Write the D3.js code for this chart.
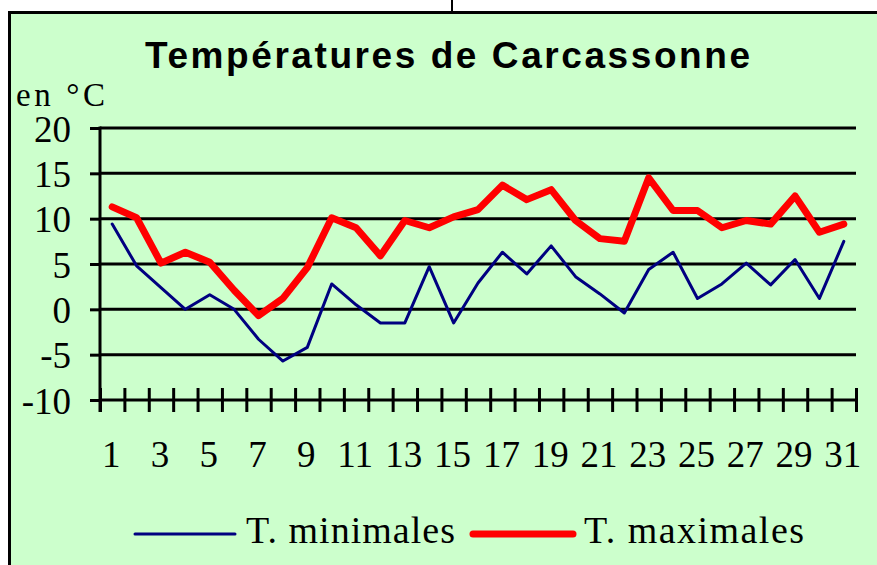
<!DOCTYPE html>
<html>
<head>
<meta charset="utf-8">
<script src="https://cdn.jsdelivr.net/npm/d3@7"></script>
<style>
  body { margin: 0; background: #fff; }
  svg { display: block; }
</style>
</head>
<body>
<svg id="chart" width="877" height="565"></svg>
<script>
// jours du mois
var days = d3.range(1, 32);
// T. minimales (°C)
var tMin = [9.4, 4.8, 2.4, 0.0, 1.6, 0.0, -3.3, -5.7, -4.2, 2.8,
            0.5, -1.5, -1.5, 4.7, -1.5, 2.9, 6.3, 3.9, 7.0, 3.6,
            1.7, -0.4, 4.4, 6.3, 1.2, 2.8, 5.1, 2.7, 5.5, 1.2, 7.5];
// T. maximales (°C)
var tMax = [11.3, 10.1, 5.1, 6.3, 5.2, 2.1, -0.7, 1.2, 4.6, 10.1,
            9.0, 5.9, 9.8, 9.0, 10.2, 11.0, 13.7, 12.1, 13.2, 9.8,
            7.8, 7.5, 14.5, 10.9, 10.9, 9.0, 9.8, 9.4, 12.5, 8.5, 9.4];
var yTicks = [-10, -5, 0, 5, 10, 15, 20];
var xLabels = days.filter(function (d) { return d % 2 === 1; });

var svg = d3.select("#chart");
var serif = "'Liberation Serif', 'Times New Roman', serif";

// petit trait au dessus du cadre
svg.append("line")
  .attr("x1", 452).attr("x2", 452).attr("y1", 0).attr("y2", 12)
  .attr("stroke", "#000").attr("stroke-width", 2);

// cadre du graphique
svg.append("rect")
  .attr("x", 9.5).attr("y", 12.5).attr("width", 900).attr("height", 600)
  .attr("fill", "#CCFFCC").attr("stroke", "#000").attr("stroke-width", 3);

// titre
svg.append("text")
  .attr("x", 145).attr("y", 68)
  .attr("textLength", 605).attr("lengthAdjust", "spacing")
  .style("font-family", "'Liberation Sans', Arial, sans-serif")
  .style("font-weight", "bold").style("font-size", "37px")
  .text("Températures de Carcassonne");

svg.append("text")
  .attr("x", 16).attr("y", 106)
  .attr("textLength", 89).attr("lengthAdjust", "spacing")
  .style("font-family", serif).style("font-size", "33px")
  .text("en °C");

var x = d3.scaleBand().domain(days).range([100, 856]);
var xEdge = d3.scaleLinear().domain([0, 31]).range([100, 856]);
var y = d3.scaleLinear().domain([-10, 20]).range([400, 128]);

// lignes horizontales
svg.append("g").selectAll("line")
  .data(yTicks.filter(function (d) { return d !== -10; }))
  .enter().append("line")
  .attr("x1", 100).attr("x2", 856)
  .attr("y1", function (d) { return y(d); })
  .attr("y2", function (d) { return y(d); })
  .attr("stroke", "#000").attr("stroke-width", 3);

// axe vertical
var yAxis = svg.append("g")
  .attr("transform", "translate(100,0)")
  .call(d3.axisLeft(y).tickValues(yTicks).tickSize(10).tickPadding(19)
    .tickFormat(function (d) { return String(d); }));
yAxis.select(".domain").remove();
yAxis.selectAll("line").attr("stroke-width", 3);
yAxis.append("line")
  .attr("x1", 0).attr("x2", 0).attr("y1", y(20) - 1.5).attr("y2", y(-10) + 12)
  .attr("stroke", "#000").attr("stroke-width", 3);
yAxis.selectAll("text")
  .attr("fill", "#000").attr("dy", "0.36em")
  .style("font-family", serif).style("font-size", "37px");

// axe horizontal avec graduations croisées
var xAxis = svg.append("g")
  .attr("transform", "translate(0," + y(-10) + ")")
  .call(d3.axisBottom(xEdge).ticks(31).tickSize(12).tickFormat(""));
xAxis.select(".domain").remove();
xAxis.selectAll(".tick line").attr("y1", -12).attr("stroke-width", 3);
xAxis.append("line")
  .attr("x1", 100).attr("x2", 856)
  .attr("stroke", "#000").attr("stroke-width", 3);

var xLab = svg.append("g")
  .attr("transform", "translate(0," + y(-10) + ")")
  .call(d3.axisBottom(x).tickValues(xLabels).tickSize(0).tickPadding(0));
xLab.select(".domain").remove();
xLab.selectAll("text")
  .attr("x", -1).attr("y", 67).attr("dy", null)
  .attr("fill", "#000")
  .style("font-family", serif).style("font-size", "37px");

// courbes
function draw(values, color, width) {
  var line = d3.line()
    .x(function (d, i) { return x(days[i]) + x.bandwidth() / 2; })
    .y(function (d) { return y(d); });
  svg.append("path")
    .datum(values)
    .attr("d", line)
    .attr("fill", "none")
    .attr("stroke", color)
    .attr("stroke-width", width)
    .attr("stroke-linejoin", "round")
    .attr("stroke-linecap", "round");
}
draw(tMin, "#000080", 3);
draw(tMax, "#FF0000", 7);

// légende
var legend = [
  { name: "T. minimales", color: "#000080", width: 3, x: 135, len: 209 },
  { name: "T. maximales", color: "#FF0000", width: 7, x: 473, len: 220 }
];
var lg = svg.append("g").selectAll("g").data(legend).enter().append("g");
lg.append("line")
  .attr("x1", function (d) { return d.x; })
  .attr("x2", function (d) { return d.x + 100; })
  .attr("y1", 534).attr("y2", 534)
  .attr("stroke", function (d) { return d.color; })
  .attr("stroke-width", function (d) { return d.width; })
  .attr("stroke-linecap", "round");
lg.append("text")
  .attr("x", function (d) { return d.x + 111; })
  .attr("y", 543)
  .attr("textLength", function (d) { return d.len; })
  .attr("lengthAdjust", "spacing")
  .style("font-family", serif).style("font-size", "38px")
  .text(function (d) { return d.name; });
</script>
</body>
</html>
